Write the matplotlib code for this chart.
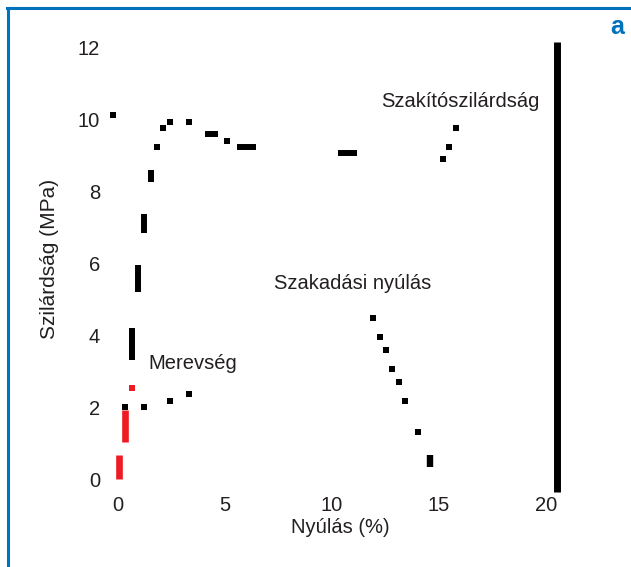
import matplotlib.pyplot as plt
from matplotlib.lines import Line2D

plt.rcParams['font.family'] = ['Liberation Sans', 'DejaVu Sans']

# single marks of the strength curve (black squares)
strength_x = [-0.25, 0.34, 1.23, 2.43, 3.32, 1.81, 2.12, 2.43, 3.32, 5.08, 15.17, 15.48, 15.8]
strength_y = [10.1, 2.01, 2.01, 2.17, 2.35, 9.21, 9.74, 9.93, 9.93, 9.40, 8.88, 9.21, 9.74]

# vertical streaks (x, y from, y to)
streak_x = [0.65, 0.95, 1.21, 1.53]
streak_lo = [3.30, 5.20, 6.84, 8.26]
streak_hi = [4.19, 5.95, 7.36, 8.58]

# horizontal streaks (y, x from, x to)
flat_y = [9.57, 9.21, 9.05]
flat_lo = [4.07, 5.57, 10.30]
flat_hi = [4.66, 6.43, 11.15]

# stiffness (red)
stiff_x = [0.05, 0.34]
stiff_lo = [0.0, 1.04]
stiff_hi = [0.67, 1.92]
stiff_pt_x = [0.65]
stiff_pt_y = [2.54]

# elongation at break
elong_x = [11.93, 12.24, 12.52, 12.82, 13.13, 13.41, 14.02]
elong_y = [4.46, 3.94, 3.58, 3.06, 2.70, 2.17, 1.30]
elong_bar_x = [14.6]
elong_bar_lo = [0.34]
elong_bar_hi = [0.67]

# thick reference line on the right
ref_x = [20.5]
ref_lo = [-0.36]
ref_hi = [12.14]

red = '#ed1c24'
blue = '#0072bc'
txt = '#231f20'

fig = plt.figure(figsize=(6.31, 5.67), dpi=100)
ax = fig.add_axes([0.1632, 0.1298, 0.7528, 0.8254])

ax.plot(strength_x, strength_y, 's', color='black', markersize=4.3, markeredgewidth=0, clip_on=False)
ax.plot(elong_x, elong_y, 's', color='black', markersize=4.3, markeredgewidth=0, clip_on=False)
ax.plot(stiff_pt_x, stiff_pt_y, 's', color=red, markersize=4.3, markeredgewidth=0, clip_on=False)

ax.vlines(streak_x, streak_lo, streak_hi, color='black', linewidth=4.3, capstyle='butt')
ax.vlines(elong_bar_x, elong_bar_lo, elong_bar_hi, color='black', linewidth=4.6, capstyle='butt')
ax.vlines(stiff_x, stiff_lo, stiff_hi, color=red, linewidth=4.8, capstyle='butt')
ax.hlines(flat_y, flat_lo, flat_hi, color='black', linewidth=4.3, capstyle='butt')
ax.vlines(ref_x, ref_lo, ref_hi, color='black', linewidth=5.0, capstyle='butt', clip_on=False)

ax.text(1.40, 3.22, 'Merevség', fontsize=14.5, color=txt, va='center')
ax.text(7.29, 5.44, 'Szakadási nyúlás', fontsize=14.5, color=txt, va='center')
ax.text(12.29, 10.5, 'Szakítószilárdság', fontsize=14.5, color=txt, va='center')

ax.set_xlim(-0.7, 21.5)
ax.set_ylim(-0.4, 12.6)
ax.set_xticks([0, 5, 10, 15, 20])
ax.set_yticks([0, 2, 4, 6, 8, 10, 12])
ax.tick_params(length=0, labelsize=14.5, colors=txt, pad=2)
ax.set_xlabel('Nyúlás (%)', fontsize=14.5, color=txt, labelpad=2)
ax.set_ylabel('Szilárdság (MPa)', fontsize=15, color=txt, labelpad=14)
for s in ax.spines.values():
    s.set_visible(False)

# blue frame on the left and top
fig.add_artist(Line2D([0.012, 0.012], [0.0, 0.986], color=blue, linewidth=2.2, transform=fig.transFigure))
fig.add_artist(Line2D([0.011, 1.0], [0.986, 0.986], color=blue, linewidth=2.2, transform=fig.transFigure))
fig.text(0.978, 0.952, 'a', fontsize=18, fontweight='bold', color=blue, ha='center', va='center')

fig.savefig('out.png', dpi=100)
